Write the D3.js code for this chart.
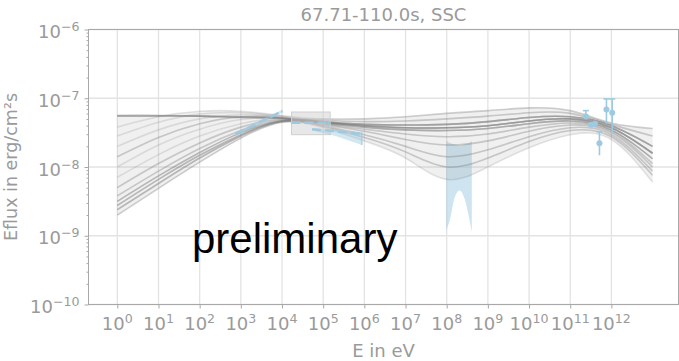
<!DOCTYPE html>
<html>
<head>
<meta charset="utf-8">
<script src="https://cdn.jsdelivr.net/npm/d3@7"></script>
<style>
  body { margin: 0; background: #fff; }
  svg text { font-family: "DejaVu Sans", sans-serif; fill: #9a9a9a; }
  svg text.watermark { font-family: "Liberation Sans", Arial, sans-serif; fill: #000; }
</style>
</head>
<body>
<div id="chart"></div>
<script>
// labels
const title = '67.71-110.0s, SSC';
const xLabel = 'E in eV';
const yLabel = 'Eflux in erg/cm²s';
const watermark = 'preliminary';

// tick exponents (log10)
const xTickExps = [0, 1, 2, 3, 4, 5, 6, 7, 8, 9, 10, 11, 12];
const yTickExps = [-10, -9, -8, -7, -6];

// model curves: log10 Eflux sampled at E = 10^0 ... 10^13 eV
const modelEnergyExps = [0, 1, 2, 3, 4, 5, 6, 7, 8, 9, 10, 11, 12, 13];
const modelLogFlux = [
  [-7.25, -7.25, -7.26, -7.27, -7.29, -7.34, -7.38, -7.39, -7.38, -7.34, -7.28, -7.27, -7.40, -7.70],
  [-7.25, -7.25, -7.26, -7.27, -7.29, -7.35, -7.40, -7.43, -7.43, -7.40, -7.33, -7.30, -7.43, -7.80],
  [-7.26, -7.26, -7.26, -7.28, -7.29, -7.36, -7.42, -7.46, -7.47, -7.44, -7.37, -7.33, -7.46, -7.88],
  [-7.25, -7.25, -7.26, -7.27, -7.29, -7.32, -7.34, -7.33, -7.30, -7.26, -7.21, -7.22, -7.38, -7.55],
  [-7.26, -7.26, -7.26, -7.28, -7.29, -7.35, -7.40, -7.43, -7.43, -7.40, -7.33, -7.30, -7.43, -7.80],
  [-7.42, -7.27, -7.19, -7.19, -7.25, -7.30, -7.30, -7.27, -7.22, -7.18, -7.14, -7.18, -7.36, -7.44],
  [-7.55, -7.35, -7.23, -7.21, -7.26, -7.34, -7.38, -7.39, -7.38, -7.34, -7.28, -7.27, -7.40, -7.70],
  [-7.70, -7.46, -7.30, -7.24, -7.27, -7.37, -7.45, -7.52, -7.56, -7.52, -7.42, -7.36, -7.48, -7.95],
  [-7.85, -7.57, -7.37, -7.27, -7.28, -7.35, -7.40, -7.43, -7.43, -7.40, -7.33, -7.30, -7.43, -7.80],
  [-8.00, -7.68, -7.45, -7.31, -7.29, -7.38, -7.48, -7.60, -7.68, -7.62, -7.48, -7.39, -7.50, -8.00],
  [-8.15, -7.82, -7.55, -7.37, -7.30, -7.36, -7.42, -7.46, -7.47, -7.44, -7.37, -7.33, -7.46, -7.88],
  [-8.30, -7.95, -7.65, -7.42, -7.31, -7.40, -7.53, -7.70, -7.85, -7.75, -7.56, -7.43, -7.53, -8.06],
  [-8.42, -8.06, -7.73, -7.47, -7.32, -7.34, -7.38, -7.39, -7.38, -7.34, -7.28, -7.27, -7.40, -7.70],
  [-8.50, -8.13, -7.79, -7.50, -7.33, -7.35, -7.40, -7.43, -7.43, -7.40, -7.33, -7.30, -7.43, -7.80],
  [-8.56, -8.18, -7.83, -7.53, -7.33, -7.41, -7.57, -7.78, -8.00, -7.87, -7.63, -7.47, -7.56, -8.12],
  [-8.62, -8.24, -7.87, -7.55, -7.34, -7.43, -7.62, -7.87, -8.18, -8.00, -7.72, -7.53, -7.60, -8.22],
  [-8.70, -8.31, -7.93, -7.58, -7.35, -7.37, -7.45, -7.52, -7.56, -7.52, -7.42, -7.36, -7.48, -7.95],
  [-8.50, -8.13, -7.79, -7.50, -7.33, -7.36, -7.42, -7.46, -7.47, -7.44, -7.37, -7.33, -7.46, -7.88],
  [-8.56, -8.18, -7.83, -7.53, -7.33, -7.34, -7.38, -7.39, -7.38, -7.34, -7.28, -7.27, -7.40, -7.70],
  [-8.62, -8.24, -7.87, -7.55, -7.34, -7.35, -7.40, -7.43, -7.43, -7.40, -7.33, -7.30, -7.43, -7.80],
  [-8.42, -8.06, -7.73, -7.47, -7.32, -7.38, -7.48, -7.60, -7.68, -7.62, -7.48, -7.39, -7.50, -8.00],
  [-8.30, -7.95, -7.65, -7.42, -7.31, -7.32, -7.34, -7.33, -7.30, -7.26, -7.21, -7.22, -7.38, -7.55],
  [-8.70, -8.31, -7.93, -7.58, -7.35, -7.36, -7.42, -7.46, -7.47, -7.44, -7.37, -7.33, -7.46, -7.88],
  [-8.56, -8.18, -7.83, -7.53, -7.33, -7.35, -7.40, -7.43, -7.43, -7.40, -7.33, -7.30, -7.43, -7.80],
  [-7.26, -7.26, -7.26, -7.28, -7.29, -7.34, -7.38, -7.39, -7.38, -7.34, -7.28, -7.27, -7.40, -7.70],
  [-8.62, -8.24, -7.87, -7.55, -7.34, -7.40, -7.53, -7.70, -7.85, -7.75, -7.56, -7.43, -7.53, -8.06],
  [-8.50, -8.13, -7.79, -7.50, -7.33, -7.30, -7.30, -7.27, -7.22, -7.18, -7.14, -7.18, -7.36, -7.44],
  [-7.85, -7.57, -7.37, -7.27, -7.28, -7.41, -7.57, -7.78, -8.00, -7.87, -7.63, -7.47, -7.56, -8.12]
];

// butterfly 1 (log10 E, log10 flux)
const bf1Exps = [2.87, 4.0];
const bf1Mid = [-7.52, -7.19];
const bf1Lo = [-7.55, -7.21];
const bf1Hi = [-7.49, -7.17];

// butterfly 2
const bf2Exps = [4.73, 5.3, 5.94];
const bf2Mid = [-7.45, -7.48, -7.52];
const bf2Lo = [-7.47, -7.55, -7.68];
const bf2Hi = [-7.44, -7.46, -7.49];

// flux box with best value
const boxExps = [4.23, 5.17];
const boxFlux = [-7.53, -7.20];
const boxMid = -7.357;
const boxErr = [-7.42, -7.32];

// wide band at ~100 MeV
const bandExps = [7.99, 8.08, 8.18, 8.31, 8.44, 8.55, 8.61];
const bandHi = [-7.62, -7.65, -7.67, -7.69, -7.67, -7.65, -7.62];
const bandLo = [-8.92, -8.76, -8.47, -8.34, -8.47, -8.76, -8.95];

// points with error bars
const ptExps = [11.38, 11.51, 11.60, 11.71, 11.88, 12.02];
const ptFlux = [-7.265, -7.386, -7.372, -7.653, -7.164, -7.212];
const ptHi = [-7.18, -7.37, -7.36, -7.49, -7.01, -7.01];
const ptLo = [-7.30, -7.40, -7.39, -7.83, -7.37, -7.52];

const width = 679;
const height = 361;
const margin = {top: 29.5, right: 0.5, bottom: 56.5, left: 88.5};
const p10 = v => Math.pow(10, v);
const blue = '#9ecae1';

const svg = d3.select('#chart').append('svg')
  .attr('width', width)
  .attr('height', height);

const x = d3.scaleLog()
  .domain([p10(-0.7), p10(13.63)])
  .range([margin.left, width - margin.right]);

const y = d3.scaleLog()
  .domain([1e-10, 1e-6])
  .range([height - margin.bottom, margin.top]);

const plotLeft = margin.left, plotRight = width - margin.right;
const plotTop = margin.top, plotBottom = height - margin.bottom;

/* grid */
const grid = svg.append('g').attr('stroke', '#e3e3e3').attr('stroke-width', 1.3);
grid.selectAll('.gx').data(xTickExps).enter().append('line')
  .attr('x1', d => x(p10(d))).attr('x2', d => x(p10(d)))
  .attr('y1', plotTop).attr('y2', plotBottom);
grid.selectAll('.gy').data(yTickExps).enter().append('line')
  .attr('x1', plotLeft).attr('x2', plotRight)
  .attr('y1', d => y(p10(d))).attr('y2', d => y(p10(d)));

/* wide band */
const bandArea = d3.area()
  .x(d => x(p10(d[0])))
  .y0(d => y(p10(d[2])))
  .y1(d => y(p10(d[1])))
  .curve(d3.curveMonotoneX);
svg.append('path')
  .datum(bandExps.map((e, i) => [e, bandHi[i], bandLo[i]]))
  .attr('d', bandArea)
  .attr('fill', blue)
  .attr('fill-opacity', 0.5);

/* model curves */
const curves = modelLogFlux.map(c => c.map((v, i) => [modelEnergyExps[i], v]));
const envelope = modelEnergyExps.map((e, i) => [
  e,
  d3.max(modelLogFlux, c => c[i]),
  d3.min(modelLogFlux, c => c[i])
]);
svg.append('path')
  .datum(envelope)
  .attr('d', d3.area()
    .x(d => x(p10(d[0])))
    .y0(d => y(p10(d[2])))
    .y1(d => y(p10(d[1])))
    .curve(d3.curveNatural))
  .attr('fill', '#999')
  .attr('fill-opacity', 0.15);

const line = d3.line()
  .x(d => x(p10(d[0])))
  .y(d => y(p10(d[1])))
  .curve(d3.curveNatural);

svg.append('g').selectAll('path')
  .data(curves)
  .enter().append('path')
  .attr('d', line)
  .attr('fill', 'none')
  .attr('stroke', '#7f7f7f')
  .attr('stroke-opacity', 0.2)
  .attr('stroke-width', 1.6);

/* flux box */
svg.append('rect')
  .attr('x', x(p10(boxExps[0])))
  .attr('y', y(p10(boxFlux[1])))
  .attr('width', x(p10(boxExps[1])) - x(p10(boxExps[0])))
  .attr('height', y(p10(boxFlux[0])) - y(p10(boxFlux[1])))
  .attr('fill', '#d0d0d0')
  .attr('fill-opacity', 0.5)
  .attr('stroke', '#cfcfcf');
svg.append('line')
  .attr('x1', x(p10(boxExps[0]))).attr('x2', x(p10(boxExps[1] - 0.05)))
  .attr('y1', y(p10(boxMid))).attr('y2', y(p10(boxMid)))
  .attr('stroke', blue).attr('stroke-width', 2.5)
  .attr('stroke-dasharray', '9,4');
svg.append('line')
  .attr('x1', x(p10(boxExps[1] - 0.05))).attr('x2', x(p10(boxExps[1] - 0.05)))
  .attr('y1', y(p10(boxErr[0]))).attr('y2', y(p10(boxErr[1])))
  .attr('stroke', blue).attr('stroke-width', 1.5);

/* butterflies */
function butterfly(exps, lo, hi, mid) {
  const pts = exps.map((e, i) => [e, hi[i], lo[i]]);
  svg.append('path')
    .datum(pts)
    .attr('d', d3.area()
      .x(d => x(p10(d[0])))
      .y0(d => y(p10(d[2])))
      .y1(d => y(p10(d[1]))))
    .attr('fill', blue)
    .attr('fill-opacity', 0.45);
  svg.append('path')
    .datum(exps.map((e, i) => [e, mid[i]]))
    .attr('d', d3.line().x(d => x(p10(d[0]))).y(d => y(p10(d[1]))))
    .attr('fill', 'none')
    .attr('stroke', blue)
    .attr('stroke-width', 2.5)
    .attr('stroke-dasharray', '9,4');
  // right edge
  const last = exps.length - 1;
  svg.append('line')
    .attr('x1', x(p10(exps[last]))).attr('x2', x(p10(exps[last])))
    .attr('y1', y(p10(lo[last]))).attr('y2', y(p10(hi[last])))
    .attr('stroke', blue).attr('stroke-width', 1.2);
}
butterfly(bf1Exps, bf1Lo, bf1Hi, bf1Mid);
butterfly(bf2Exps, bf2Lo, bf2Hi, bf2Mid);

/* points */
const pts = svg.append('g').attr('stroke', blue).attr('stroke-width', 1.6);
ptExps.forEach((e, i) => {
  const px = x(p10(e));
  pts.append('line')
    .attr('x1', px).attr('x2', px)
    .attr('y1', y(p10(ptHi[i]))).attr('y2', y(p10(ptLo[i])));
  pts.append('line')
    .attr('x1', px - 3).attr('x2', px + 3)
    .attr('y1', y(p10(ptHi[i]))).attr('y2', y(p10(ptHi[i])));
  pts.append('circle')
    .attr('cx', px).attr('cy', y(p10(ptFlux[i])))
    .attr('r', 3)
    .attr('fill', blue)
    .attr('stroke', 'none');
});

/* spines */
svg.append('rect')
  .attr('x', plotLeft).attr('y', plotTop)
  .attr('width', plotRight - plotLeft).attr('height', plotBottom - plotTop)
  .attr('fill', 'none')
  .attr('stroke', '#a8a8a8')
  .attr('stroke-width', 1);

/* axes */
const xAxis = svg.append('g')
  .attr('transform', `translate(0,${plotBottom})`)
  .call(d3.axisBottom(x).tickValues(xTickExps.map(p10)).tickSize(4).tickFormat(''));
const yMinor = [];
for (let k = -10; k < -6; k++) for (let m = 2; m <= 9; m++) yMinor.push(m * p10(k));
const yAxisMinor = svg.append('g')
  .attr('transform', `translate(${plotLeft},0)`)
  .call(d3.axisLeft(y).tickValues(yMinor).tickSize(2).tickFormat(''));
const yAxis = svg.append('g')
  .attr('transform', `translate(${plotLeft},0)`)
  .call(d3.axisLeft(y).tickValues(yTickExps.map(p10)).tickSize(4).tickFormat(''));
[xAxis, yAxis, yAxisMinor].forEach(a => {
  a.select('.domain').remove();
  a.selectAll('.tick line').attr('stroke', '#a8a8a8');
});

function powLabel(sel, exp) {
  sel.append('tspan').text('10');
  sel.append('tspan')
    .attr('dy', -7)
    .attr('font-size', '12.6px')
    .text(exp < 0 ? '\u2212' + (-exp) : String(exp));
}

xTickExps.forEach(e => {
  const t = svg.append('text')
    .attr('x', x(p10(e)))
    .attr('y', plotBottom + 25.5)
    .attr('text-anchor', 'middle')
    .attr('font-size', '18px');
  powLabel(t, e);
});
yTickExps.forEach(e => {
  const t = svg.append('text')
    .attr('x', plotLeft - 9)
    .attr('y', y(p10(e)) + 8.5)
    .attr('text-anchor', 'end')
    .attr('font-size', '18px');
  powLabel(t, e);
});

svg.append('text')
  .attr('x', (plotLeft + plotRight) / 2)
  .attr('y', 20.5)
  .attr('text-anchor', 'middle')
  .attr('font-size', '18px')
  .text(title);

svg.append('text')
  .attr('x', (plotLeft + plotRight) / 2)
  .attr('y', 357)
  .attr('text-anchor', 'middle')
  .attr('font-size', '18px')
  .text(xLabel);

svg.append('text')
  .attr('transform', `translate(17,${(plotTop + plotBottom) / 2}) rotate(-90)`)
  .attr('text-anchor', 'middle')
  .attr('font-size', '17.5px')
  .text(yLabel);

svg.append('text')
  .attr('class', 'watermark')
  .attr('x', 192)
  .attr('y', 253)
  .attr('font-size', '42px')
  .text(watermark);
</script>
</body>
</html>
